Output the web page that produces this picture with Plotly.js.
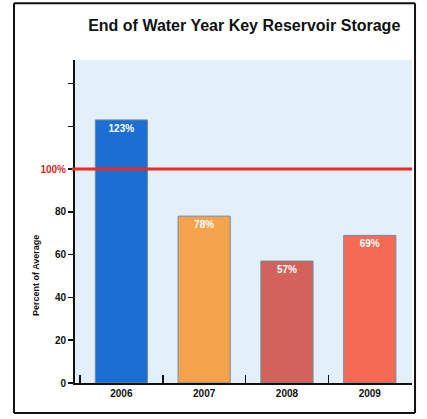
<!DOCTYPE html>
<html><head><meta charset="utf-8">
<script src="https://cdn.plot.ly/plotly-3.0.1.min.js"></script>
<style>html,body{margin:0;padding:0;background:#fff;}#chart{width:427px;height:419px;}</style>
</head><body><div id="chart"></div>
<script>
const years = ['2006', '2007', '2008', '2009'];
const percentOfAverage = [123, 78, 57, 69];
const barLabels = ['123%', '78%', '57%', '69%'];
const barColors = ['#1c6fd2', '#f5a24c', '#d2625a', '#f46a55'];
const yTickVals = [0, 20, 40, 60, 80, 100, 120, 140];
const yTickText = ['0', '20', '40', '60', '80', '<span style="color:#e0281e">100%</span>', '', ''];
const averageLine = 100;

const FONT = 'Liberation Sans, Arial';

const trace = {
  type: 'bar',
  x: years,
  y: percentOfAverage,
  text: barLabels,
  textposition: 'inside',
  insidetextanchor: 'end',
  textangle: 0,
  textfont: {family: FONT, size: 10, color: '#ffffff', weight: 'bold'},
  marker: {color: barColors, line: {color: '#6f8aa3', width: 1}},
  width: 0.63,
  hoverinfo: 'none'
};

const layout = {
  width: 427, height: 419,
  margin: {l: 75, r: 15, t: 60, b: 36},
  paper_bgcolor: '#ffffff',
  plot_bgcolor: '#e3eff9',
  showlegend: false,
  title: {
    text: 'End of Water Year Key Reservoir Storage',
    font: {family: FONT, size: 16, color: '#111', weight: 'bold'},
    xref: 'container', yref: 'container', x: 0.572, y: 0.94, xanchor: 'center', yanchor: 'middle'
  },
  xaxis: {
    type: 'category',
    range: [-0.56, 3.51],
    showline: true, linecolor: '#111', linewidth: 2,
    ticks: 'inside', tickson: 'boundaries', ticklen: 8, tickcolor: '#111', tickwidth: 1.5,
    showgrid: false, zeroline: false,
    tickfont: {family: FONT, size: 10, color: '#111', weight: 'bold'}
  },
  yaxis: {
    range: [0, 151],
    tickvals: yTickVals, ticktext: yTickText,
    showline: true, linecolor: '#111', linewidth: 2,
    ticks: 'outside', ticklen: 5, tickcolor: '#111', tickwidth: 1.5,
    showgrid: false, zeroline: false,
    tickfont: {family: FONT, size: 10, color: '#111', weight: 'bold'}
  },
  annotations: [
    {text: 'Percent of Average', textangle: -90, xref: 'paper', yref: 'paper',
     x: -0.116, y: 0.334, xanchor: 'center', yanchor: 'middle', showarrow: false,
     font: {family: FONT, size: 9, color: '#111', weight: 'bold'}}
  ],
  shapes: [
    {type: 'line', xref: 'paper', yref: 'y', x0: -0.01, x1: 1, y0: averageLine, y1: averageLine,
     line: {color: '#ec2a22', width: 3}},
    {type: 'line', xref: 'paper', yref: 'paper', x0: -0.181, x1: -0.181, y0: -0.093, y1: 1.176,
     line: {color: '#111', width: 2}},
    {type: 'line', xref: 'paper', yref: 'paper', x0: -0.181, x1: 1.009, y0: 1.176, y1: 1.176,
     line: {color: '#111', width: 2}},
    {type: 'line', xref: 'paper', yref: 'paper', x0: 1.009, x1: 1.009, y0: -0.093, y1: 1.176,
     line: {color: '#111', width: 2}},
    {type: 'line', xref: 'paper', yref: 'paper', x0: -0.181, x1: 1.009, y0: -0.093, y1: -0.093,
     line: {color: '#111', width: 2}}
  ]
};

Plotly.newPlot('chart', [trace], layout, {displayModeBar: false, staticPlot: true});
</script></body></html>
